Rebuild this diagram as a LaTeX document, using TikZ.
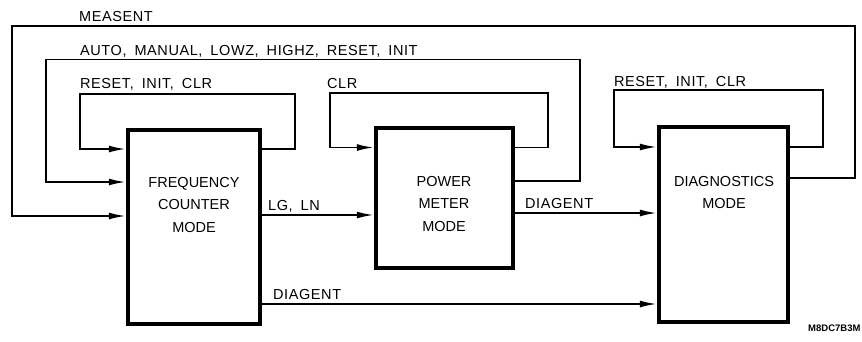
\documentclass[tikz,border=0pt]{standalone}
\usepackage{fontspec}
\setmainfont{Liberation Sans}
\newfontfamily\lblfam{Liberation Sans}[LetterSpace=4]
\usetikzlibrary{arrows.meta}
\newcommand\mylblfont{\lblfam\fontsize{14.5}{17}\selectfont\spaceskip 8pt\relax}
\begin{document}
\begin{tikzpicture}[x=1pt,y=-1pt,
  modebox/.style={draw, line width=4.5pt, inner sep=0pt},
  boxtext/.style={font=\fontsize{14.5}{22.5}\selectfont, align=center, inner sep=0pt},
  lbl/.style={font=\mylblfont, anchor=base west, inner sep=0pt},
  conn/.style={line width=1.8pt, -{Latex[length=17pt,width=7pt]}}]
\useasboundingbox[fill=white] (0,0) rectangle (862,341);
% boxes
\node[modebox, minimum width=132pt, minimum height=194pt] (fc) at (194,227) {};
\node[modebox, minimum width=137pt, minimum height=140pt] (pm) at (444.5,198) {};
\node[modebox, minimum width=129pt, minimum height=195pt] (dg) at (723.5,224.5) {};
\node[boxtext] (fctxt) at (194,205) {FREQUENCY\\COUNTER\\MODE};
\node[boxtext] (pmtxt) at (444,204) {POWER\\METER\\MODE};
\node[boxtext, font=\fontsize{14.5}{21.5}\selectfont] (dgtxt) at (724,192.5) {DIAGNOSTICS\\MODE};
% self loops
\draw[conn] (fc.east |- 0,149) -| (295,94) -| (80,149) -- (fc.west |- 0,149);
\draw[conn] (pm.east |- 0,147.5) -| (548,93) -| (330,147.5) -- (pm.west |- 0,147.5);
\draw[conn] (dg.east |- 0,147) -| (823,90) -| (614,147) -- (dg.west |- 0,147);
% long loops
\draw[conn] (pm.east |- 0,181) -| (580,59.5) -| (46,182) -- (fc.west |- 0,182);
\draw[conn] (dg.east |- 0,178) -| (855,26) -| (12,216) -- (fc.west |- 0,216);
% forward arrows
\draw[conn] (fc.east |- 0,215) -- (pm.west |- 0,215);
\draw[conn] (pm.east |- 0,213) -- (dg.west |- 0,213);
\draw[conn] (fc.east |- 0,304) -- (dg.west |- 0,304);
% labels
\node[lbl] (l1) at (79,21) {MEASENT};
\node[lbl] (l2) at (80,55) {AUTO, MANUAL, LOWZ, HIGHZ, RESET, INIT};
\node[lbl] (l3) at (80,88) {RESET, INIT, CLR};
\node[lbl] (l4) at (327,88) {CLR};
\node[lbl] (l5) at (614,86) {RESET, INIT, CLR};
\node[lbl] (l6) at (268,210) {LG, LN};
\node[lbl] (l7) at (525,208) {DIAGENT};
\node[lbl] (l8) at (273,299) {DIAGENT};
\node[lbl, font=\fontsize{9.5}{11}\selectfont\bfseries] (l9) at (808,331) {M8DC7B3M};
\end{tikzpicture}
\end{document}
